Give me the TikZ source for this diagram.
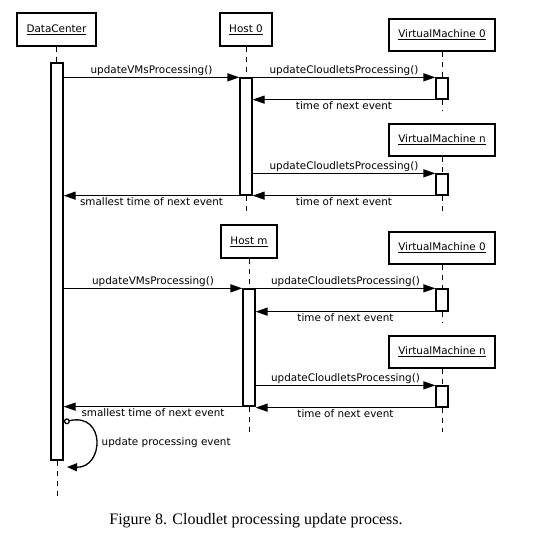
\documentclass[tikz,border=0pt]{standalone}
\usepackage{fontspec}
\setmainfont{DejaVu Sans}
\newfontfamily\capfont{Liberation Serif}
\usetikzlibrary{arrows.meta}

\begin{document}
\begin{tikzpicture}[x=1pt,y=-1pt,
  obj/.style={draw,line width=1.6pt,minimum height=33pt,inner sep=0pt,font=\fontsize{10.4}{12}\selectfont},
  act/.style={draw,line width=1.3pt,fill=white,minimum width=12pt,inner sep=0pt},
  life/.style={line width=0.8pt,dash pattern=on 5pt off 5pt},
  msg/.style={line width=1.3pt,-{Triangle[length=12pt,width=8pt]}},
  lbl/.style={font=\fontsize{10.4}{12}\selectfont,inner sep=1.5pt}]
\useasboundingbox (0,0) rectangle (544,551);
% objects
\node[obj,minimum width=79pt] (dc) at (56.5,29.5) {\underline{DataCenter}};
\node[obj,minimum width=52pt] (h0) at (246,29.5) {\underline{Host 0}};
\node[obj,minimum width=106pt,minimum height=32pt] (vm0a) at (442,35) {\underline{VirtualMachine 0}};
\node[obj,minimum width=106pt,minimum height=32pt] (vmna) at (442,140) {\underline{VirtualMachine n}};
\node[obj,minimum width=56pt] (hm) at (249,241.5) {\underline{Host m}};
\node[obj,minimum width=106pt,minimum height=32pt] (vm0b) at (442,248) {\underline{VirtualMachine 0}};
\node[obj,minimum width=106pt,minimum height=32pt] (vmnb) at (442,352) {\underline{VirtualMachine n}};
% activations
\node[act,minimum height=397pt] (dcact) at (57,261.5) {};
\node[act,minimum height=117pt] (h0act) at (246,136.5) {};
\node[act,minimum height=21pt] (vm0aact) at (442,88.5) {};
\node[act,minimum height=21pt] (vmnaact) at (442,184.5) {};
\node[act,minimum height=117pt] (hmact) at (249,347.5) {};
\node[act,minimum height=22pt] (vm0bact) at (442,300) {};
\node[act,minimum height=21pt] (vmnbact) at (442,396.5) {};
% lifeline ends
\coordinate (dcend) at (57,497);
\coordinate (h0end) at (246,212);
\coordinate (vm0aend) at (442,110);
\coordinate (vmnaend) at (442,213);
\coordinate (hmend) at (249,435);
\coordinate (vm0bend) at (442,323);
\coordinate (vmnbend) at (442,432);
\draw[life] (dc) -- (dcact);
\draw[life] (dcact) -- (dcend);
\draw[life] (h0) -- (h0act);
\draw[life] (h0act) -- (h0end);
\draw[life] (vm0a) -- (vm0aact);
\draw[life] (vm0aact) -- (vm0aend);
\draw[life] (vmna) -- (vmnaact);
\draw[life] (vmnaact) -- (vmnaend);
\draw[life] (hm) -- (hmact);
\draw[life] (hmact) -- (hmend);
\draw[life] (vm0b) -- (vm0bact);
\draw[life] (vm0bact) -- (vm0bend);
\draw[life] (vmnb) -- (vmnbact);
\draw[life] (vmnbact) -- (vmnbend);
% first host
\draw[msg] (dcact.east |- h0act.north) -- (h0act.north west)
  node[midway,above,lbl] {updateVMsProcessing()};
\draw[msg] (h0act.east |- vm0aact.north) -- (vm0aact.north west)
  node[midway,above,lbl] {updateCloudletsProcessing()};
\draw[msg] (vm0aact.south west) -- (h0act.east |- vm0aact.south)
  node[midway,below,lbl] {time of next event};
\draw[msg] (h0act.east |- vmnaact.north) -- (vmnaact.north west)
  node[midway,above,lbl] {updateCloudletsProcessing()};
\draw[msg] (vmnaact.south west) -- (h0act.east |- vmnaact.south)
  node[midway,below,lbl] {time of next event};
\draw[msg] (h0act.south west) -- (dcact.east |- h0act.south)
  node[midway,below,lbl] {smallest time of next event};
% second host
\draw[msg] (dcact.east |- hmact.north) -- (hmact.north west)
  node[midway,above,lbl] {updateVMsProcessing()};
\draw[msg] (hmact.east |- vm0bact.north) -- (vm0bact.north west)
  node[midway,above,lbl] {updateCloudletsProcessing()};
\draw[msg] (vm0bact.south west) -- (hmact.east |- vm0bact.south)
  node[midway,below,lbl] {time of next event};
\draw[msg] (hmact.east |- vmnbact.north) -- (vmnbact.north west)
  node[midway,above,lbl] {updateCloudletsProcessing()};
\draw[msg] (vmnbact.south west) -- (hmact.east |- vmnbact.south)
  node[midway,below,lbl] {time of next event};
\draw[msg] (hmact.south west) -- (dcact.east |- hmact.south)
  node[midway,below,lbl] {smallest time of next event};
% self call
\coordinate (loopa) at (64,422);
\coordinate (loopb) at (67,467);
\draw[line width=1.3pt,{Circle[open,length=6pt]}-{Triangle[length=10pt,width=8pt]}]
  (loopa) .. controls (106,412) and (104,468) .. (loopb);
\node[lbl,anchor=west] (looplbl) at (100,443) {update processing event};
\node[font=\capfont\fontsize{16}{19}\selectfont] (cap) at (256,521)
  {Figure 8. Cloudlet processing update process.};
\end{tikzpicture}
\end{document}
